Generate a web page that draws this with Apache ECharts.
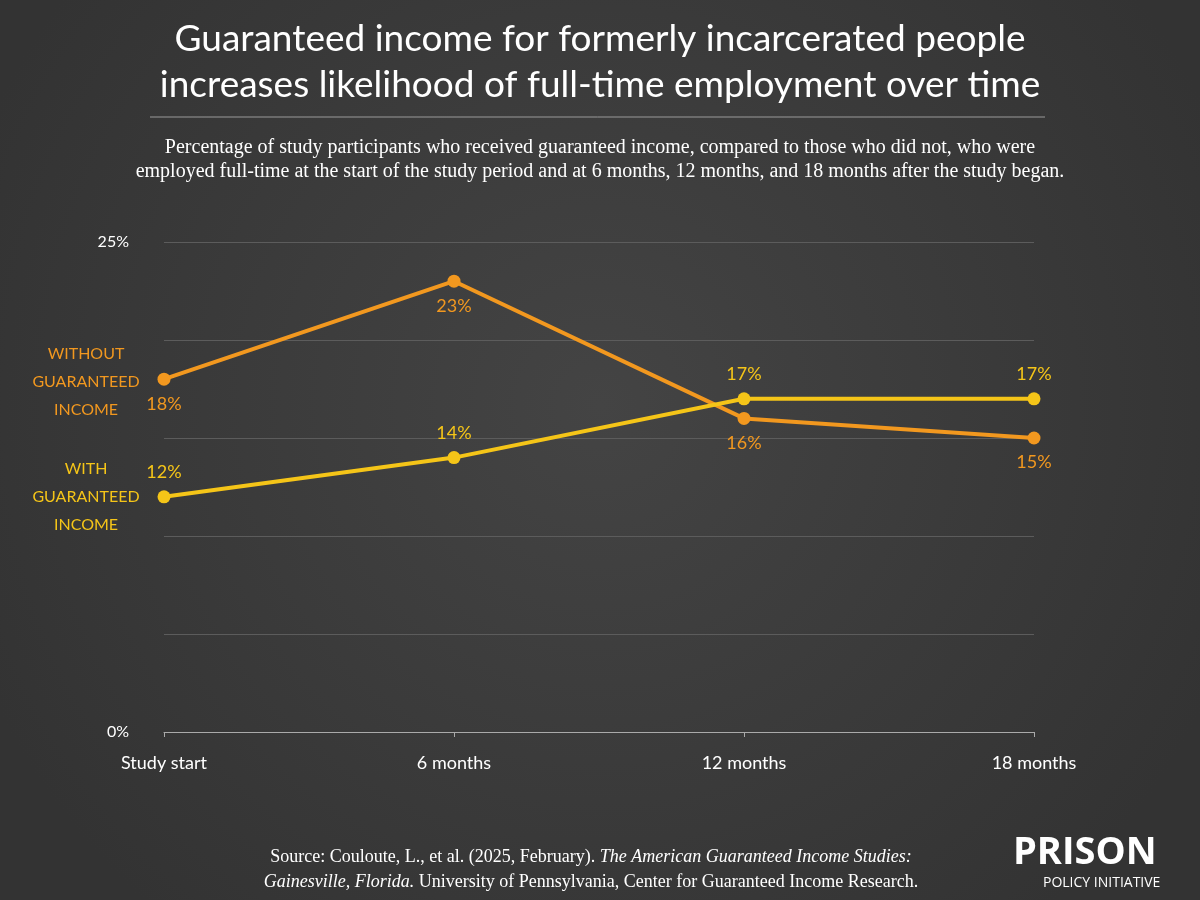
<!DOCTYPE html>
<html><head><meta charset="utf-8">
<script src="https://cdn.jsdelivr.net/npm/echarts@6/dist/echarts.min.js"></script>
<style>html,body{margin:0;padding:0;background:#3a3a3a}#c{width:1200px;height:900px}</style>
</head><body><div id="c"></div>
<script>
const categories = ['Study start', '6 months', '12 months', '18 months'];
const withoutIncome = [18, 23, 16, 15];
const withIncome = [12, 14, 17, 17];

const ORANGE = '#f2981f';
const YELLOW = '#f5c518';
const chart = echarts.init(document.getElementById('c'));

function centered(x, y, text, font, fill, lineHeight, rich) {
  return { type: 'text', x: x, y: y, style: { text, font, fill, lineHeight, align: 'center', verticalAlign: 'top', rich } };
}

chart.setOption({
  backgroundColor: {
    type: 'radial', x: 0.5, y: 0.45, r: 0.75,
    colorStops: [{ offset: 0, color: '#444444' }, { offset: 1, color: '#333333' }]
  },
  textStyle: { fontFamily: 'Lato' },
  graphic: [
    centered(600, 16, 'Guaranteed income for formerly incarcerated people\nincreases likelihood of full-time employment over time',
      '37px Lato', '#ffffff', 46),
    centered(600, 136, 'Percentage of study participants who received guaranteed income, compared to those who did not, who were\nemployed full-time at the start of the study period and at 6 months, 12 months, and 18 months after the study began.',
      '20px "Liberation Serif"', '#ffffff', 24),
    { type: 'line', shape: { x1: 150, y1: 117, x2: 1045, y2: 117 }, style: { stroke: '#9a9a9a', lineWidth: 1 } },
    centered(86, 340, 'WITHOUT\nGUARANTEED\nINCOME', '16px Lato', ORANGE, 28),
    centered(86, 455, 'WITH\nGUARANTEED\nINCOME', '16px Lato', YELLOW, 28),
    { type: 'text', x: 1013, y: 834, style: { text: 'PRISON', fill: '#ffffff', font: 'bold 38px "Open Sans"' } },
    { type: 'text', x: 1043, y: 876, style: { text: 'POLICY INITIATIVE', fill: '#ffffff', font: '14px "Open Sans"' } },
    centered(591, 845,
      'Source: Couloute, L., et al. (2025, February). {i|The American Guaranteed Income Studies:}\n{i|Gainesville, Florida.} University of Pennsylvania, Center for Guaranteed Income Research.',
      '18px "Liberation Serif"', '#ffffff', 25,
      { i: { fontStyle: 'italic', fontFamily: 'Liberation Serif', fontSize: 18, fill: '#ffffff', lineHeight: 25 } })
  ],
  grid: { left: 164, right: 166, top: 242, bottom: 168 },
  xAxis: {
    type: 'category', data: categories, boundaryGap: false,
    axisLine: { lineStyle: { color: '#aaaaaa' } },
    axisTick: { show: true, alignWithLabel: true, lineStyle: { color: '#aaaaaa' } },
    axisLabel: { color: '#ffffff', fontSize: 18, margin: 22, fontFamily: 'Lato' }
  },
  yAxis: {
    type: 'value', min: 0, max: 25, interval: 5,
    axisLine: { show: false }, axisTick: { show: false },
    splitLine: { lineStyle: { color: '#5c5c5c' } },
    axisLabel: {
      color: '#ffffff', fontSize: 16, margin: 35, fontFamily: 'Lato',
      formatter: v => (v === 0 || v === 25) ? v + '%' : ''
    }
  },
  series: [
    {
      name: 'Without guaranteed income', type: 'line', data: withoutIncome,
      symbol: 'circle', symbolSize: 13, lineStyle: { width: 4, color: ORANGE }, itemStyle: { color: ORANGE },
      label: { show: true, position: 'bottom', distance: 9, formatter: '{c}%', color: ORANGE, fontSize: 18, fontFamily: 'Lato' },
      z: 3
    },
    {
      name: 'With guaranteed income', type: 'line', data: withIncome,
      symbol: 'circle', symbolSize: 13, lineStyle: { width: 4, color: YELLOW }, itemStyle: { color: YELLOW },
      label: { show: true, position: 'top', distance: 9, formatter: '{c}%', color: YELLOW, fontSize: 18, fontFamily: 'Lato' },
      z: 4
    }
  ]
});
</script></body></html>
